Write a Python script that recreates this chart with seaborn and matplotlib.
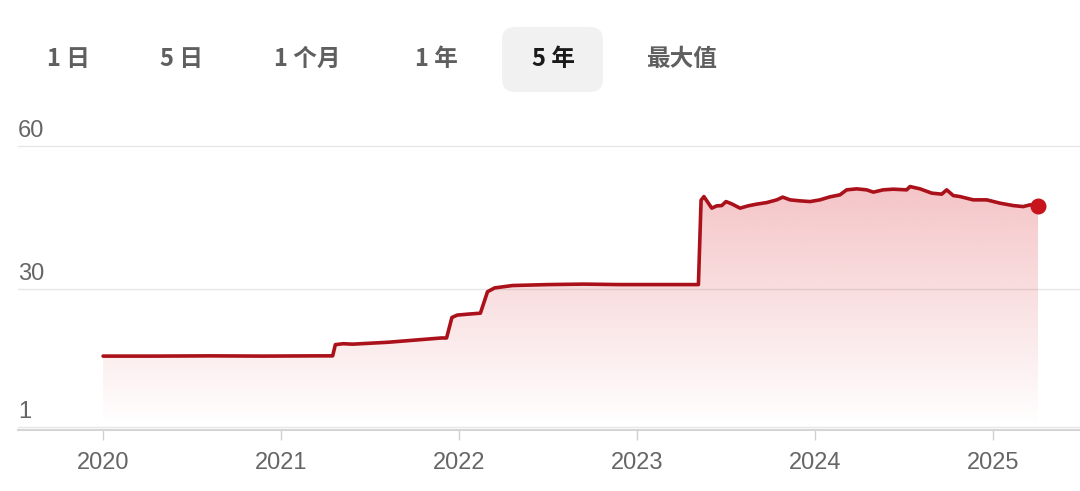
import matplotlib
matplotlib.use("Agg")
import matplotlib.pyplot as plt
import matplotlib.transforms as mtransforms
from matplotlib.patches import FancyBboxPatch
import seaborn as sns
import pandas as pd
import numpy as np

# 数据（小数年份, 价格）
years = [2020.00, 2020.30, 2020.60, 2020.90, 2021.20, 2021.29,
         2021.305, 2021.35, 2021.40, 2021.50, 2021.60, 2021.70, 2021.80, 2021.90, 2021.93,
         2021.96, 2021.99, 2022.05, 2022.12,
         2022.16, 2022.20, 2022.30, 2022.50, 2022.70, 2022.90, 2023.10, 2023.345,
         2023.36, 2023.376, 2023.420, 2023.448, 2023.476, 2023.500, 2023.532,
         2023.579, 2023.624, 2023.672, 2023.729, 2023.785, 2023.819, 2023.860,
         2023.916, 2023.972, 2024.028, 2024.084, 2024.140, 2024.178, 2024.234,
         2024.290, 2024.328, 2024.383, 2024.440, 2024.515, 2024.534, 2024.590,
         2024.656, 2024.712, 2024.740, 2024.777, 2024.815, 2024.889, 2024.965,
         2025.039, 2025.114, 2025.170, 2025.208, 2025.253]
prices = [15.9, 15.9, 15.95, 15.9, 15.95, 15.95,
          18.3, 18.5, 18.4, 18.6, 18.8, 19.1, 19.4, 19.7, 19.7,
          24.0, 24.5, 24.7, 24.9,
          29.4, 30.2, 30.7, 30.9, 31.0, 30.9, 30.9, 30.9,
          48.6, 49.36, 46.93, 47.41, 47.47, 48.31, 47.83,
          46.93, 47.41, 47.77, 48.10, 48.67, 49.24, 48.67,
          48.46, 48.31, 48.67, 49.30, 49.72, 50.77, 50.98,
          50.77, 50.29, 50.77, 50.91, 50.77, 51.46, 50.98,
          50.08, 49.87, 50.77, 49.57, 49.36, 48.67, 48.67,
          47.98, 47.47, 47.26, 47.62, 47.47]

year_ticks = [2020, 2021, 2022, 2023, 2024, 2025]
y_ticks = [1, 30, 60]
y_tick_labels = ["1", "30", "60"]
buttons = ["1 日", "5 日", "1 个月", "1 年", "5 年", "最大值"]
selected = "5 年"

df = pd.DataFrame({"year": years, "price": prices})

sns.set_style("white")
plt.rcParams["font.family"] = ["Noto Sans CJK SC", "DejaVu Sans"]

line_color = "#ab111a"
dot_color = "#c8141c"

fig = plt.figure(figsize=(10.8, 4.91), dpi=100)
ax = fig.add_axes([18 / 1080, 1 - 430 / 491, 1 - 18 / 1080, 308 / 491])

# 渐变填充
fill = ax.fill_between(df["year"], df["price"], 0.4, color="none", lw=0)
x0, x1 = df["year"].min(), df["year"].max()
grad = np.linspace(0.27, 0.0, 256).reshape(-1, 1)
rgba = np.zeros((256, 1, 4))
rgba[..., 0] = 215 / 255
rgba[..., 1] = 35 / 255
rgba[..., 2] = 45 / 255
rgba[..., 3] = grad
img = ax.imshow(rgba, extent=[x0, x1, 1, 52], aspect="auto", origin="upper",
                zorder=1, interpolation="bilinear")
img.set_clip_path(fill.get_paths()[0], transform=ax.transData)

sns.lineplot(data=df, x="year", y="price", ax=ax, sort=False,
             color=line_color, lw=2.6, zorder=3)
ax.plot(df["year"].iloc[-1], df["price"].iloc[-1], "o", ms=10.5,
        color=dot_color, zorder=4)

ax.set_xlim(2019.522, 2025.489)
ax.set_ylim(0.4, 65)

for v in y_ticks:
    ax.axhline(v, color="#e6e6e6", lw=1, zorder=0)

# y轴标签放在网格线上方
off = mtransforms.ScaledTranslation(0, 4 / 100, fig.dpi_scale_trans)
for v, lab in zip(y_ticks, y_tick_labels):
    ax.text(0, v, lab, transform=ax.get_yaxis_transform() + off,
            ha="left", va="bottom", fontsize=17, color="#666666",
            family="Liberation Sans")

ax.set_yticks([])
ax.set_xticks(year_ticks)
ax.set_xticklabels([str(y) for y in year_ticks], fontsize=17, color="#666666",
                   family="Liberation Sans")
ax.tick_params(axis="x", length=7, width=1, color="#d0d0d0", pad=9, bottom=True)
ax.set_xlabel("")
ax.set_ylabel("")
for s in ["top", "right", "left"]:
    ax.spines[s].set_visible(False)
ax.spines["bottom"].set_color("#d5d5d5")
ax.spines["bottom"].set_linewidth(1.5)

# 顶部时间范围按钮
btn_x = [68, 181, 307, 436, 553, 681]
box = FancyBboxPatch((502 / 1080, 1 - 92 / 491), 101 / 1080, 65 / 491,
                     boxstyle="round,pad=0,rounding_size=0.012",
                     transform=fig.transFigure, facecolor="#f1f1f1",
                     edgecolor="none", mutation_aspect=1080 / 491)
fig.patches.append(box)
for bx, lab in zip(btn_x, buttons):
    fig.text(bx / 1080, 1 - 59 / 491, lab, ha="center", va="center",
             fontsize=17, fontweight="bold",
             color="#1a1a1a" if lab == selected else "#5f5f5f")

fig.savefig("out.png", dpi=100)
